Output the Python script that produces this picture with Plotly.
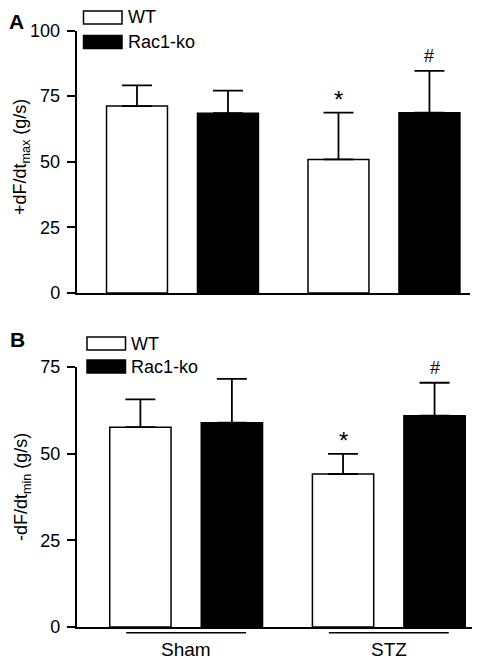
import plotly.graph_objects as go

# ---- data ----
groups = ["Sham", "STZ"]
series = ["WT", "Rac1-ko"]
# Panel A: +dF/dt max (g/s)
a_wt = [71.2, 50.9]
a_wt_err = [7.9, 17.8]
a_ko = [68.5, 68.7]
a_ko_err = [8.6, 15.9]
# Panel B: -dF/dt min (g/s)
b_wt = [57.6, 44.1]
b_wt_err = [8.0, 5.8]
b_ko = [58.9, 60.9]
b_ko_err = [12.6, 9.5]
a_ticks = [0, 25, 50, 75, 100]
b_ticks = [0, 25, 50, 75]
# significance marks: (series index, group index, symbol)
a_marks = [(0, 1, "*"), (1, 1, "#")]
b_marks = [(0, 1, "*"), (1, 1, "#")]

FONT = "Liberation Sans, Arial, sans-serif"
BARGAP = 0.097
GROUPGAP = 0.33
OFFSET = (1 - BARGAP) / 4
W, H = 480, 662
# page body margin offsets the figure in the window
OX, OY = 8, 8

fig = go.Figure()

def add_bars(vals, errs, color, xa, ya):
    fig.add_trace(go.Bar(
        x=groups, y=vals, xaxis=xa, yaxis=ya,
        marker=dict(color=color, line=dict(color="black", width=1.5)),
        error_y=dict(type="data", array=errs, arrayminus=[0] * len(errs),
                     symmetric=False, color="black", thickness=1.8, width=15),
        showlegend=False,
    ))

add_bars(a_wt, a_wt_err, "white", "x", "y")
add_bars(a_ko, a_ko_err, "black", "x", "y")
add_bars(b_wt, b_wt_err, "white", "x2", "y2")
add_bars(b_ko, b_ko_err, "black", "x2", "y2")

def px(pix):
    return (pix - OX) / W

def py(pix):
    return (H - (pix - OY)) / H

axis_common = dict(showline=True, linecolor="black", linewidth=1.5, showgrid=False,
                   zeroline=False, ticks="outside", ticklen=8, tickwidth=1.5,
                   tickcolor="black", ticklabelstandoff=3, automargin=False,
                   tickfont=dict(family=FONT, size=18, color="black"))
xcommon = dict(showline=True, linecolor="black", linewidth=1.5, showticklabels=False,
               ticks="", showgrid=False, automargin=False)

fig.update_layout(
    width=W, height=H, margin=dict(l=0, r=0, t=0, b=0, pad=0, autoexpand=False),
    paper_bgcolor="white", plot_bgcolor="white",
    barmode="group", bargap=BARGAP, bargroupgap=GROUPGAP,
    font=dict(family=FONT, color="black"),
    showlegend=False,
    xaxis=dict(domain=[px(76.5), px(470)], anchor="y", range=[-0.526, 1.427], **xcommon),
    yaxis=dict(domain=[py(293), py(30.5)], anchor="x", range=[0, 100],
               tickvals=a_ticks, **axis_common),
    xaxis2=dict(domain=[px(76.7), px(480)], anchor="y2", range=[-0.540, 1.45], **xcommon),
    yaxis2=dict(domain=[py(627), py(366.8)], anchor="x2", range=[0, 75],
                tickvals=b_ticks, **axis_common),
)

# significance marks
def add_marks(marks, wt, wte, ko, kore, xa, ya):
    for si, gi, sym in marks:
        vals, errs = (wt, wte) if si == 0 else (ko, kore)
        xpos = gi + (OFFSET if si == 1 else -OFFSET)
        star = sym == "*"
        fig.add_annotation(x=xpos, y=vals[gi] + errs[gi], xref=xa, yref=ya,
                           text=sym, showarrow=False, yanchor="bottom", xanchor="center",
                           yshift=-2 if star else 3,
                           font=dict(family=FONT, size=24 if star else 18, color="black"))

add_marks(a_marks, a_wt, a_wt_err, a_ko, a_ko_err, "x", "y")
add_marks(b_marks, b_wt, b_wt_err, b_ko, b_ko_err, "x2", "y2")

# panel letters
fig.add_annotation(x=px(7), y=py(8), xref="paper", yref="paper", text="<b>A</b>",
                   showarrow=False, xanchor="left", yanchor="top",
                   font=dict(family=FONT, size=21, color="black"))
fig.add_annotation(x=px(8), y=py(339), xref="paper", yref="paper", text="<b>B</b>",
                   showarrow=False, xanchor="left", yanchor="middle",
                   font=dict(family=FONT, size=21, color="black"))

# y titles
fig.add_annotation(x=px(22), y=py(157), xref="paper", yref="paper",
                   text="+dF/dt<sub>max</sub> (g/s)", textangle=-90, showarrow=False,
                   xanchor="center", yanchor="middle",
                   font=dict(family=FONT, size=18, color="black"))
fig.add_annotation(x=px(22), y=py(487), xref="paper", yref="paper",
                   text="-dF/dt<sub>min</sub> (g/s)", textangle=-90, showarrow=False,
                   xanchor="center", yanchor="middle",
                   font=dict(family=FONT, size=18, color="black"))

# legends (manual boxes)
def legend(x0, y_wt, y_ko):
    for (yy, fill, label) in [(y_wt, "white", series[0]), (y_ko, "black", series[1])]:
        fig.add_shape(type="rect", xref="paper", yref="paper",
                      x0=px(x0), x1=px(x0 + 38.5), y0=py(yy - 6.5), y1=py(yy + 6.5),
                      fillcolor=fill, line=dict(color="black", width=1.5))
        fig.add_annotation(x=px(x0 + 42), y=py(yy), xref="paper", yref="paper",
                           text=label, showarrow=False, xanchor="left", yanchor="middle",
                           font=dict(family=FONT, size=18, color="black"))

legend(83.5, 17.5, 42)
legend(87, 343.5, 366.5)

# group labels under bottom panel
for gi, g in enumerate(groups):
    fig.add_shape(type="line", xref="x2", yref="paper", x0=gi - 0.296, x1=gi + 0.296,
                  y0=py(632.7), y1=py(632.7), line=dict(color="black", width=1.5))
    fig.add_annotation(x=g, y=py(649), xref="x2", yref="paper", text=g, showarrow=False,
                       xanchor="center", yanchor="middle",
                       font=dict(family=FONT, size=19, color="black"))

fig.write_html("out.html")
